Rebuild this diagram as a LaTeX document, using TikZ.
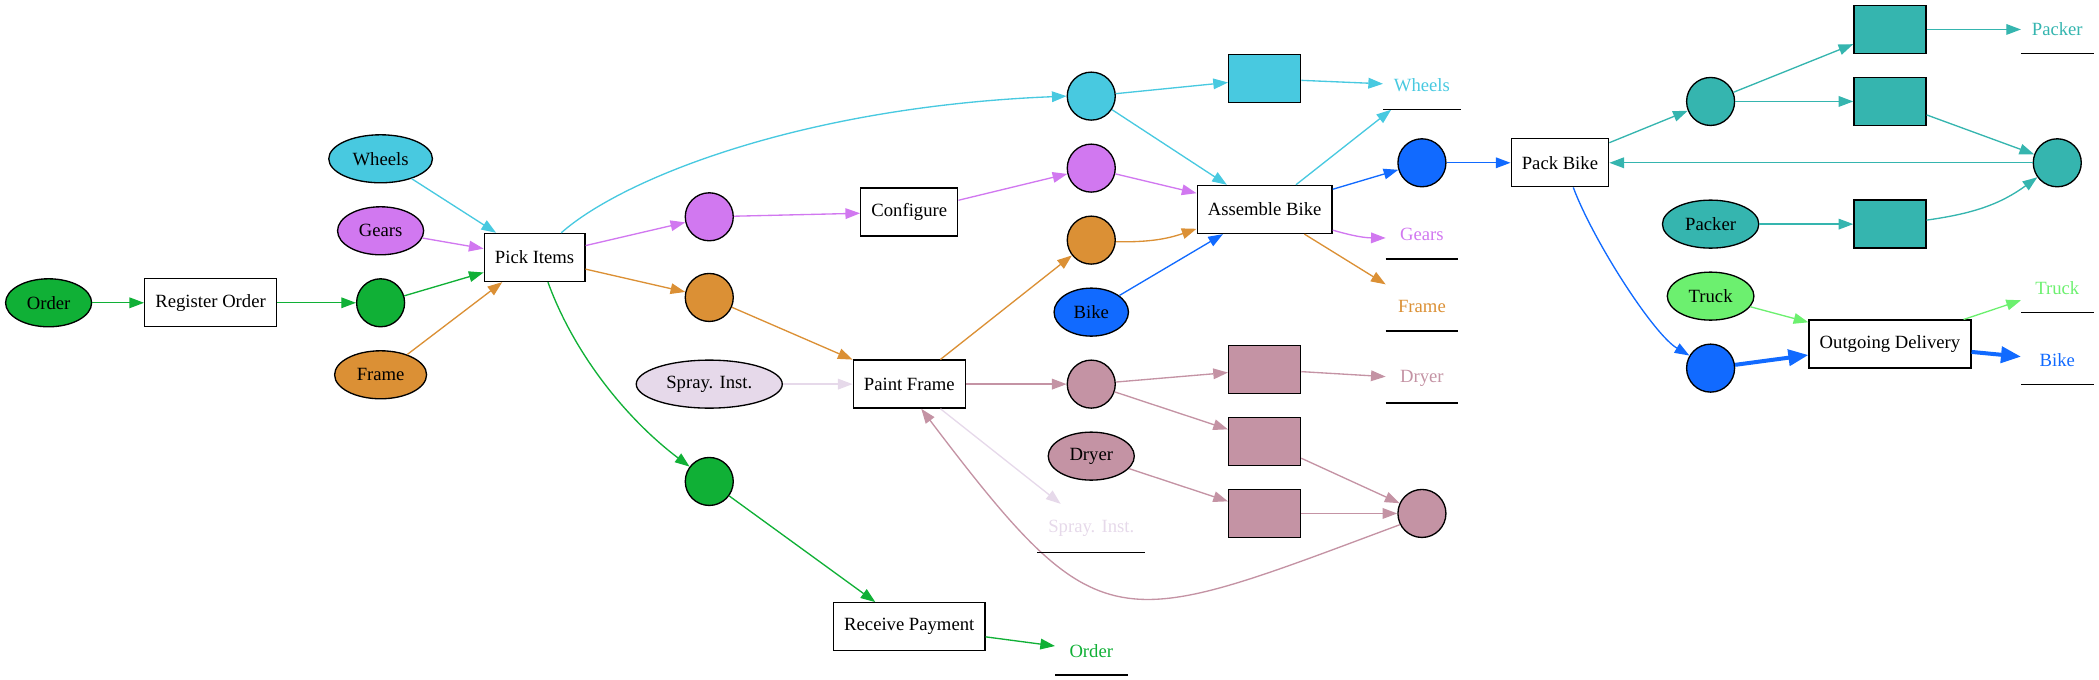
\documentclass[tikz,border=0pt]{standalone}
\usepackage{fontspec}
\setmainfont{Liberation Serif}
\usetikzlibrary{arrows.meta,positioning,shapes.geometric}
\definecolor{ordGreen}{HTML}{10B036}
\definecolor{whlCyan}{HTML}{48C9E0}
\definecolor{grsPurple}{HTML}{D178F0}
\definecolor{frmOrange}{HTML}{DB9035}
\definecolor{bikBlue}{HTML}{116AFF}
\definecolor{dryMauve}{HTML}{C493A4}
\definecolor{spyLilac}{HTML}{E6D9EA}
\definecolor{pakTeal}{HTML}{35B5AF}
\definecolor{trkGreen}{HTML}{6CF06F}
\tikzset{
  transbox/.style={rectangle,draw=black,line width=1pt,fill=white,
    minimum width=54pt,minimum height=36pt,inner xsep=8pt,font=\fontsize{14pt}{16pt}\selectfont},
  placenode/.style={circle,draw=black,line width=1pt,minimum size=36pt,inner sep=0pt},
  tokensrc/.style={ellipse,draw=black,line width=1pt,minimum height=36pt,
    inner xsep=6.5pt,inner ysep=2pt,font=\fontsize{14pt}{16pt}\selectfont},
  resbox/.style={rectangle,draw=black,line width=1pt,minimum width=54pt,minimum height=36pt},
  sinklabel/.style={rectangle,minimum width=54pt,minimum height=36pt,inner xsep=8pt,
    font=\fontsize{14pt}{16pt}\selectfont},
  arrow/.style={-{Triangle[length=11pt,width=8pt]},line width=1pt},
  heavyarrow/.style={-{Triangle[length=15pt,width=12pt]},line width=3pt}
}
\begin{document}
\begin{tikzpicture}[on grid,node distance=54pt]
  \useasboundingbox (-36.45pt,227.1pt) rectangle (1537.8pt,-282.9pt);
  \node[tokensrc,fill=ordGreen] (order) {Order};
  \node[transbox,right=121.5pt of order] (register) {Register Order};
  \node[placenode,fill=ordGreen,right=127.5pt of register] (gp1) {};
  \node[tokensrc,fill=whlCyan,above=108pt of gp1] (wheels) {Wheels};
  \node[tokensrc,fill=grsPurple,above=of gp1] (gears) {Gears};
  \node[tokensrc,fill=frmOrange,below=of gp1] (frame) {Frame};
  \node[transbox,above right=34pt and 115.5pt of gp1] (pick) {Pick Items};
  \node[placenode,fill=grsPurple,above right=30.5pt and 131pt of pick] (pp1) {};
  \node[placenode,fill=frmOrange,below right=30pt and 131pt of pick] (op1) {};
  \node[tokensrc,fill=spyLilac,below=65pt of op1] (spray) {Spray. Inst.};
  \node[placenode,fill=ordGreen,below=73pt of spray] (gp2) {};
  \node[transbox,above right=3.5pt and 150pt of pp1] (configure) {Configure};
  \node[transbox,right=150pt of spray] (paint) {Paint Frame};
  \node[transbox,below right=109pt and 150pt of gp2] (receive) {Receive Payment};
  \node[placenode,fill=dryMauve,right=136.5pt of paint] (mp1) {};
  \node[tokensrc,fill=bikBlue,above=of mp1] (bike) {Bike};
  \node[placenode,fill=frmOrange,above=of bike] (op2) {};
  \node[placenode,fill=grsPurple,above=of op2] (pp2) {};
  \node[placenode,fill=whlCyan,above=of pp2] (cp) {};
  \node[tokensrc,fill=dryMauve,below=of mp1] (dryer) {Dryer};
  \node[sinklabel,text=spyLilac,below=of dryer] (spraylbl) {Spray. Inst.};
  \node[sinklabel,text=ordGreen,below right=18pt and 136.5pt of receive] (orderlbl) {Order};
  \node[transbox,above right=23pt and 130pt of op2] (assemble) {Assemble Bike};
  \node[resbox,fill=whlCyan,above right=13pt and 130pt of cp] (crect) {};
  \node[resbox,fill=dryMauve,above right=11pt and 130pt of mp1] (mrect1) {};
  \node[resbox,fill=dryMauve,below=of mrect1] (mrect2) {};
  \node[resbox,fill=dryMauve,below=of mrect2] (mrect3) {};
  \node[sinklabel,text=whlCyan,below right=5pt and 118pt of crect] (wheelslbl) {Wheels};
  \node[placenode,fill=bikBlue,above right=35pt and 118pt of assemble] (bp1) {};
  \node[sinklabel,text=grsPurple,below=of bp1] (gearslbl) {Gears};
  \node[sinklabel,text=frmOrange,below=of gearslbl] (framelbl) {Frame};
  \node[sinklabel,text=dryMauve,below=of framelbl] (dryerlbl) {Dryer};
  \node[placenode,fill=dryMauve,right=118pt of mrect3] (mp2) {};
  \node[transbox,right=103.5pt of bp1] (packbike) {Pack Bike};
  \node[placenode,fill=pakTeal,above right=46pt and 113pt of packbike] (tp1) {};
  \node[tokensrc,fill=pakTeal,below=92pt of tp1] (packer) {Packer};
  \node[tokensrc,fill=trkGreen,below=of packer] (truck) {Truck};
  \node[placenode,fill=bikBlue,below=of truck] (bp2) {};
  \node[resbox,fill=pakTeal,right=134.5pt of tp1] (trect2) {};
  \node[resbox,fill=pakTeal,above=of trect2] (trect1) {};
  \node[resbox,fill=pakTeal,right=134.5pt of packer] (trect3) {};
  \node[transbox,below right=36pt and 134.5pt of truck] (outgoing) {Outgoing Delivery};
  \node[placenode,fill=pakTeal,above right=46pt and 125.5pt of trect3] (tp2) {};
  \node[sinklabel,text=pakTeal,right=125.5pt of trect1] (packerlbl) {Packer};
  \node[sinklabel,text=trkGreen,above right=42pt and 125.5pt of outgoing] (trucklbl) {Truck};
  \node[sinklabel,text=bikBlue,below right=12pt and 125.5pt of outgoing] (bikelbl) {Bike};
  \draw[arrow,ordGreen] (order) -- (register);
  \draw[arrow,ordGreen] (register) -- (gp1);
  \draw[arrow,ordGreen] (gp1) -- (pick);
  \draw[arrow,whlCyan] (wheels) -- (pick);
  \draw[arrow,grsPurple] (gears) -- (pick);
  \draw[arrow,frmOrange] (frame) -- (pick);
  \draw[arrow,whlCyan] ([xshift=20pt]pick.north) .. controls +(45pt,40pt) and +(-200pt,-8pt) .. (cp.west);
  \draw[arrow,grsPurple] (pick) -- (pp1);
  \draw[arrow,frmOrange] (pick) -- (op1);
  \draw[arrow,ordGreen] ([xshift=10pt]pick.south) .. controls +(20pt,-55pt) and +(-61pt,46pt) .. (gp2);
  \draw[arrow,grsPurple] (pp1) -- (configure);
  \draw[arrow,grsPurple] (configure) -- (pp2);
  \draw[arrow,frmOrange] (op1) -- (paint);
  \draw[arrow,spyLilac] (spray) -- (paint);
  \draw[arrow,frmOrange] (paint) -- (op2);
  \draw[arrow,dryMauve] (paint) -- (mp1);
  \draw[arrow,spyLilac] (paint) -- (spraylbl);
  \draw[arrow,dryMauve] (mp2.207) .. controls +(-215pt,-80pt) and +(135pt,-178pt) .. ([xshift=9pt]paint.south);
  \draw[arrow,ordGreen] (gp2) -- (receive);
  \draw[arrow,ordGreen] (receive) -- (orderlbl);
  \draw[arrow,whlCyan] (cp) -- (crect);
  \draw[arrow,whlCyan] (cp) -- (assemble);
  \draw[arrow,whlCyan] (crect) -- (wheelslbl);
  \draw[arrow,grsPurple] (pp2) -- (assemble);
  \draw[arrow,frmOrange] (op2) to[bend right=10] ([yshift=4pt]assemble.south west);
  \draw[arrow,bikBlue] (bike) -- (assemble);
  \draw[arrow,whlCyan] (assemble) -- (wheelslbl);
  \draw[arrow,bikBlue] (assemble) -- (bp1);
  \draw[arrow,grsPurple] ([yshift=3pt]assemble.south east) to[bend right=8] (gearslbl);
  \draw[arrow,frmOrange] (assemble) -- (framelbl);
  \draw[arrow,dryMauve] (mp1) -- (mrect1);
  \draw[arrow,dryMauve] (mp1) -- (mrect2);
  \draw[arrow,dryMauve] (mrect1) -- (dryerlbl);
  \draw[arrow,dryMauve] (dryer) -- (mrect3);
  \draw[arrow,dryMauve] (mrect2) -- (mp2);
  \draw[arrow,dryMauve] (mrect3) -- (mp2);
  \draw[arrow,bikBlue] (bp1) -- (packbike);
  \draw[arrow,pakTeal] (packbike) -- (tp1);
  \draw[arrow,bikBlue] ([xshift=10pt]packbike.south) .. controls +(15pt,-40pt) and +(-43pt,25.5pt) .. (bp2);
  \draw[arrow,pakTeal] (tp1) -- (trect1);
  \draw[arrow,pakTeal] (tp1) -- (trect2);
  \draw[arrow,pakTeal] (trect1) -- (packerlbl);
  \draw[arrow,pakTeal] (trect2) -- (tp2);
  \draw[arrow,pakTeal] (tp2) -- (packbike);
  \draw[arrow,pakTeal] (packer) -- (trect3);
  \draw[arrow,pakTeal] ([yshift=3pt]trect3.east) to[out=8,in=216] (tp2);
  \draw[arrow,trkGreen] (truck) -- (outgoing);
  \draw[heavyarrow,bikBlue] (bp2) -- (outgoing);
  \draw[arrow,trkGreen] (outgoing) -- (trucklbl);
  \draw[heavyarrow,bikBlue] (outgoing) -- (bikelbl);
  \foreach \lbl in {orderlbl,spraylbl,wheelslbl,gearslbl,framelbl,dryerlbl,packerlbl,trucklbl,bikelbl}
    \draw[line width=1pt] (\lbl.south west) -- (\lbl.south east);
\end{tikzpicture}
\end{document}
